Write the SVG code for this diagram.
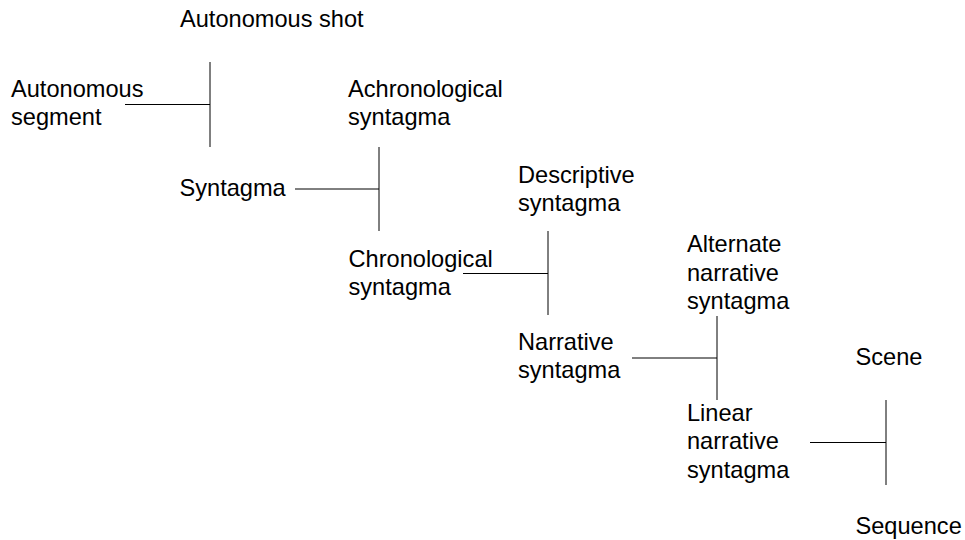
<svg xmlns="http://www.w3.org/2000/svg" width="965" height="540" viewBox="0 0 965 540">
  <style>
    .lbl { font-family: "Liberation Sans", Arial, sans-serif; font-size: 23.6px; fill: #000; }
    .ln { stroke: #000; stroke-width: 1; fill: none; }
  </style>
  <rect width="965" height="540" fill="#fff"/>

  <g id="connectors">
    <line class="ln" x1="125" y1="104.5" x2="210" y2="104.5"/>
    <line class="ln" x1="210" y1="62" x2="210" y2="147"/>
    <line class="ln" x1="295" y1="189" x2="379" y2="189"/>
    <line class="ln" x1="379" y1="147" x2="379" y2="231"/>
    <line class="ln" x1="463" y1="273.5" x2="548" y2="273.5"/>
    <line class="ln" x1="548" y1="231" x2="548" y2="315"/>
    <line class="ln" x1="632" y1="358" x2="717" y2="358"/>
    <line class="ln" x1="717" y1="316" x2="717" y2="400"/>
    <line class="ln" x1="810" y1="442.5" x2="886" y2="442.5"/>
    <line class="ln" x1="886" y1="400" x2="886" y2="485"/>
  </g>

  <g id="autonomous-shot">
    <text class="lbl" x="180" y="27">Autonomous shot</text>
  </g>
  <g id="autonomous-segment">
    <text class="lbl" x="11" y="97">Autonomous</text>
    <text class="lbl" x="11" y="125">segment</text>
  </g>
  <g id="achronological-syntagma">
    <text class="lbl" x="348" y="97">Achronological</text>
    <text class="lbl" x="348" y="125">syntagma</text>
  </g>
  <g id="syntagma">
    <text class="lbl" x="179.5" y="196">Syntagma</text>
  </g>
  <g id="descriptive-syntagma">
    <text class="lbl" x="518" y="183">Descriptive</text>
    <text class="lbl" x="518" y="211">syntagma</text>
  </g>
  <g id="chronological-syntagma">
    <text class="lbl" x="348.5" y="266.5">Chronological</text>
    <text class="lbl" x="348.5" y="294.5">syntagma</text>
  </g>
  <g id="alternate-narrative-syntagma">
    <text class="lbl" x="687" y="252">Alternate</text>
    <text class="lbl" x="687" y="280.5">narrative</text>
    <text class="lbl" x="687" y="308.5">syntagma</text>
  </g>
  <g id="narrative-syntagma">
    <text class="lbl" x="518" y="350">Narrative</text>
    <text class="lbl" x="518" y="378">syntagma</text>
  </g>
  <g id="scene">
    <text class="lbl" x="855.5" y="364.5">Scene</text>
  </g>
  <g id="linear-narrative-syntagma">
    <text class="lbl" x="687" y="420.5">Linear</text>
    <text class="lbl" x="687" y="449">narrative</text>
    <text class="lbl" x="687" y="477.5">syntagma</text>
  </g>
  <g id="sequence">
    <text class="lbl" x="855.5" y="533.5">Sequence</text>
  </g>
</svg>
